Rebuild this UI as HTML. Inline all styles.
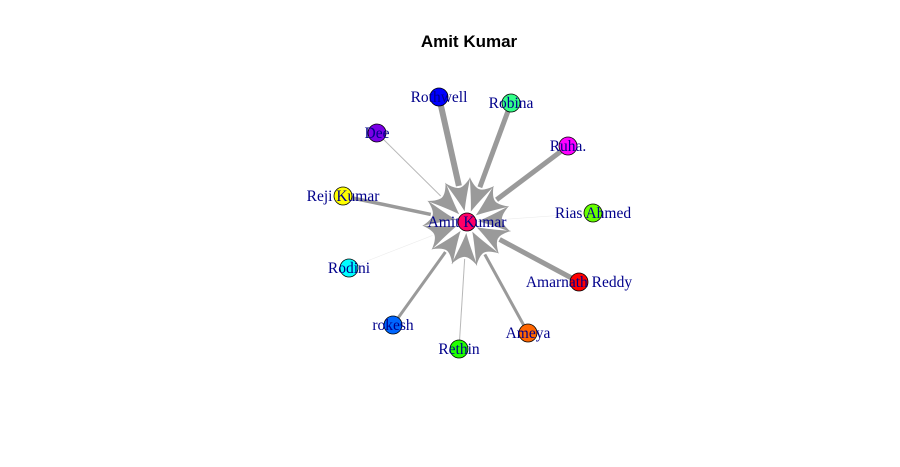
<!DOCTYPE html>
<html><head><meta charset="utf-8"><style>
body{margin:0;background:#fff;}
svg{display:block;}
</style></head><body>
<svg id="chart" width="900" height="467" viewBox="0 0 900 467" xmlns="http://www.w3.org/2000/svg">
<rect width="900" height="467" fill="#fff"/>
<text x="469" y="47" text-anchor="middle" font-family="Liberation Sans, sans-serif" font-weight="bold" font-size="17">Amit Kumar</text>
<g id="edges"></g>
<g id="arrows"></g>
<g id="nodes"></g>
</svg>
<script>
const names = ["Rothwell","Robina","Dee","Ruha.","Reji Kumar","Rias Ahmed","Rodini","Amarnath Reddy","rokesh","Ameya","Rethin"];
const layoutX = [-0.112, 0.176, -0.36, 0.404, -0.496, 0.504, -0.472, 0.448, -0.296, 0.244, -0.032];
const layoutY = [0.5, 0.476, 0.356, 0.304, 0.104, 0.036, -0.184, -0.24, -0.412, -0.444, -0.508];
const weights = [6, 5, 1, 5, 3.5, 0.6, 0.6, 5, 3, 3, 1];
const colors = ["#0000FF","#33FF88","#7A00E6","#FF00FF","#FFFF00","#66FF00","#00FFFF","#FF0000","#0066FF","#FF6600","#22FF00"];
const centerName = "Amit Kumar";
const centerColor = "#FF0066";

const cx = 467, cy = 222, scale = 250;
const sx = v => cx + v * scale;
const sy = v => cy - v * scale;
const NS = "http://www.w3.org/2000/svg";
const E = document.getElementById("edges"), A = document.getElementById("arrows"), N = document.getElementById("nodes");
function mk(tag, attrs, parent){const el=document.createElementNS(NS,tag);for(const k in attrs)el.setAttribute(k,attrs[k]);parent.appendChild(el);return el;}

names.forEach((n,i)=>{
  const x=sx(layoutX[i]), y=sy(layoutY[i]);
  const dx=cx-x, dy=cy-y, L=Math.hypot(dx,dy), ux=dx/L, uy=dy/L;
  const tipR=11, len=32, hw=13;
  const tx=cx-ux*tipR, ty=cy-uy*tipR;
  const bx=tx-ux*len, by=ty-uy*len;
  const col = weights[i] < 1 ? "#ececec" : (weights[i] < 2 ? "#b8b8b8" : "#9a9a9a");
  const line = mk("line",{x1:x,y1:y,x2:bx+ux*6,y2:by+uy*6,stroke:col,"stroke-width":weights[i]},E);
  
  
  const lx=bx-uy*hw, ly=by+ux*hw, rx=bx+uy*hw, ry=by-ux*hw;
  const nx=bx+ux*8, ny=by+uy*8;
  const ar = mk("path",{d:`M${tx},${ty} Q${tx-ux*12-uy*4},${ty-uy*12+ux*4} ${lx},${ly} Q${nx-uy*5},${ny+ux*5} ${nx},${ny} Q${nx+uy*5},${ny-ux*5} ${rx},${ry} Q${tx-ux*12+uy*4},${ty-uy*12-ux*4} ${tx},${ty} Z`,fill:"#9a9a9a"},A);
  
  
});
function node(n,x,y,c){
  const g=mk("g",{},N);
  
  
  mk("circle",{cx:x,cy:y,r:9,fill:c,stroke:"#000","stroke-width":0.8},g);
  const t=mk("text",{x:x,y:y+5,"text-anchor":"middle","font-family":"Liberation Serif, serif","font-size":15.5,fill:"#00008B"},g);
  t.textContent=n;
}
names.forEach((n,i)=>node(n,sx(layoutX[i]),sy(layoutY[i]),colors[i]));
node(centerName,cx,cy,centerColor);
</script>
</body></html>
